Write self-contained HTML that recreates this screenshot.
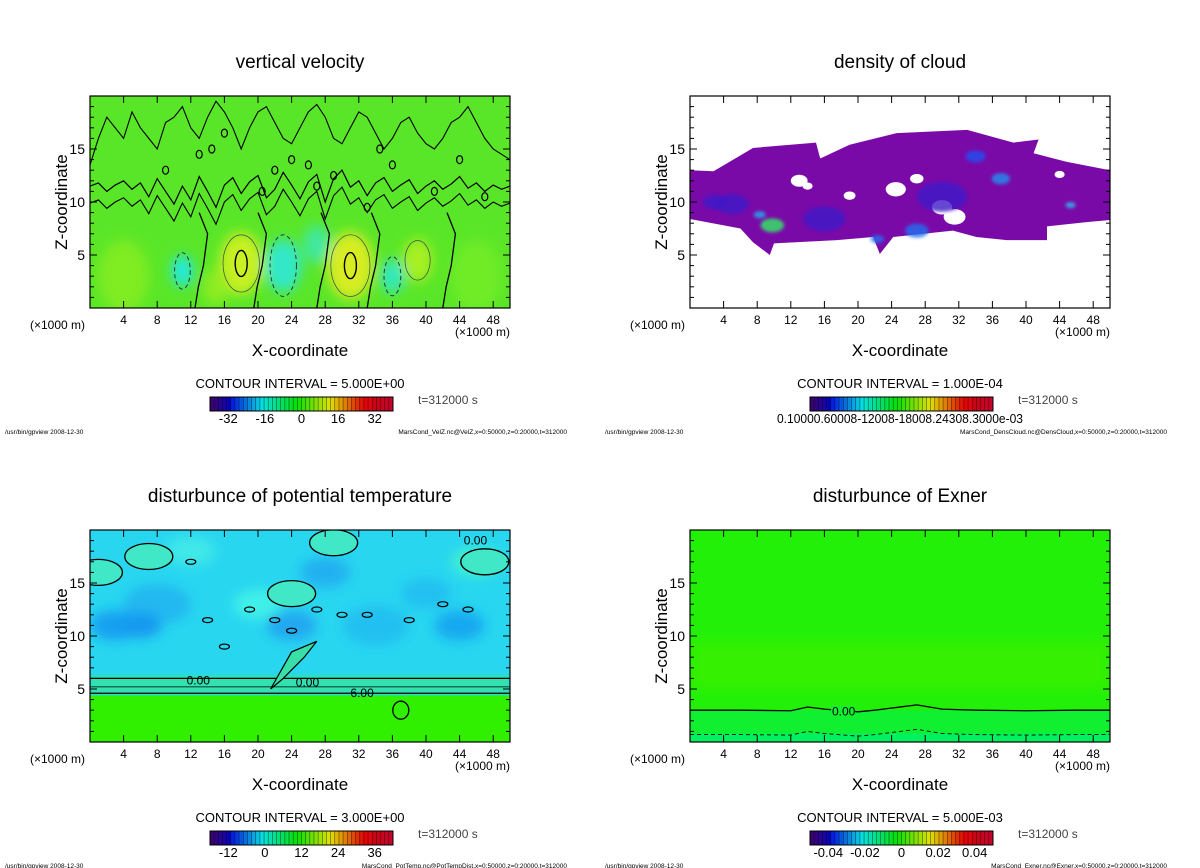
<!DOCTYPE html>
<html><head><meta charset="utf-8"><style>
html,body{margin:0;padding:0;background:#fff;width:1200px;height:868px;overflow:hidden}
svg{display:block;font-family:"Liberation Sans",sans-serif}
</style></head><body>
<svg id="fig" width="1200" height="868" viewBox="0 0 1200 868" xmlns="http://www.w3.org/2000/svg">
<defs>
<filter id="blur6" x="-50%" y="-50%" width="200%" height="200%"><feGaussianBlur stdDeviation="6"/></filter>
<filter id="blur3" x="-50%" y="-50%" width="200%" height="200%"><feGaussianBlur stdDeviation="1.5"/></filter>
</defs>
</svg>
<script>
// ---- data arrays ----
const xTicks=[4,8,12,16,20,24,28,32,36,40,44,48];
const zTicks=[5,10,15];
const titles=["vertical velocity","density of cloud","disturbunce of potential temperature","disturbunce of Exner"];
const intervals=["CONTOUR INTERVAL = 5.000E+00","CONTOUR INTERVAL = 1.000E-04","CONTOUR INTERVAL = 3.000E+00","CONTOUR INTERVAL = 5.000E-03"];
const files=["MarsCond_VelZ.nc@VelZ,x=0:50000,z=0:20000,t=312000","MarsCond_DensCloud.nc@DensCloud,x=0:50000,z=0:20000,t=312000","MarsCond_PotTemp.nc@PotTempDist,x=0:50000,z=0:20000,t=312000","MarsCond_Exner.nc@Exner,x=0:50000,z=0:20000,t=312000"];
const cbLabels=[["-32","-16","0","16","32"],["0.10000.60008-12008-18008.24308.3000e-03"],["-12","0","12","24","36"],["-0.04","-0.02","0","0.02","0.04"]];
const cbValues=[[-32,-16,0,16,32],[0],[-12,0,12,24,36],[-0.04,-0.02,0,0.02,0.04]];
const cbRange=[[-40,40],[-1,1],[-18,42],[-0.05,0.05]];
// vertical velocity blobs
const vzBlobX=[18,31,39,11,23,36,4,46,27,15];
const vzBlobZ=[4.2,4,4.5,3.5,4,3,3,3,6,2];
const vzBlobR=[2.6,2.8,1.8,1.3,2.2,1.4,3,3,1.6,1.5];
const vzBlobC=["#c8f020","#d8ec20","#a8f020","#20e8e0","#30e8c8","#30e8c0","#80ec20","#70ec28","#40e8a0","#90ec20"];
// jagged contours
const vzLineX=[0,1,2,3,4,5,6,7,8,9,10,11,12,13,14,15,16,17,18,19,20,21,22,23,24,25,26,27,28,29,30,31,32,33,34,35,36,37,38,39,40,41,42,43,44,45,46,47,48,49,50];
const vzLineZ=[11.5,11.8,11,11.6,12,11.2,11.8,10.5,12.2,11,9.8,11.5,10.2,12.4,11,9.5,11.6,12.3,10.8,11.9,12.5,10.4,11.2,12.8,11.6,10.3,11.9,12.6,10,12.2,13,11.4,12,10.6,11.8,12.3,11,11.6,12.1,10.8,11.5,12,11.2,11.7,12.4,11.3,11.8,11,11.6,11.2,11.5];
const vzLine2Z=[13.5,16,18,17,16,18.5,17,16,15,17.5,18,19,17,16,18,19.5,18.5,17,15,17,18.5,19,17.5,16,15.5,17,18.5,19.2,18,16,15.5,17,18.5,18,16.5,15,16,17.5,18,16.5,15.5,15,16,17.5,18,19,17.5,16,15,14.5,14];
const vzLoopX=[13,14.5,16,22,24,27,29,33,34.5,36,41,44,47,9,20.5,26];
const vzLoopZ=[14.5,15,16.5,13,14,11.5,12.5,9.5,15,13.5,11,14,10.5,13,11,13.5];
// cloud
const cloudX=[0,2.8,7.5,15,15.5,19,24.6,33,38.5,41.5,40.9,44.8,50,50,47.2,42.5,42.5,37.7,34.1,31.3,24.2,22.6,21.8,17.5,10,9.5,7.5,6,0];
const cloudZ=[13,12.9,15.1,15.6,14.1,15.4,16.5,16.8,15.6,15.9,14.6,13.8,13,8.3,8.1,7.7,6.4,6.4,6.7,7.3,6.7,5.1,6.7,6.4,6.1,5,6.2,7.5,8.4];
const holeX=[13,24.5,31.5,19,44,27,30,14];
const holeZ=[12,11.2,8.6,10.6,12.6,12.2,9.5,11.5];
const holeR=[1.0,1.2,1.3,0.7,0.6,0.8,1.2,0.6];
const cloudBlobX=[9.8,8.3,34,37,45.3,22.3,27,5,16,30,3];
const cloudBlobZ=[7.8,8.8,14.3,12.2,9.7,6.5,7.3,9.8,8.4,10.5,10];
const cloudBlobR=[1.4,0.7,1.2,1.1,0.6,0.8,1.4,2,2.5,3,1.5];
const cloudBlobC=["#30f060","#20b0f0","#2050f0","#2090f0","#30c0f0","#2070f0","#2070f0","#4018c8","#4018c8","#4018c8","#4018c8"];
// pot temp
const ptBlobX=[8,20,28,46,3,34,12,40,24,44,6];
const ptBlobZ=[13,13,16,17,11,11,18,14,11,11,11];
const ptBlobR=[4,3,3,3,3,4,3,3,3,3,2.5];
const ptBlobC=["#20b8f0","#40f0e8","#20b0f0","#40f0d0","#18a0f0","#20c0f0","#40e8e8","#20c0f0","#20a8f0","#18a8f0","#1898f0"];
const ptLoopX=[14,19,22,27,30,33,16,24,38,42,45,12];
const ptLoopZ=[11.5,12.5,11.5,12.5,12,12,9,10.5,11.5,13,12.5,17];
// exner
const exLineX=[0,6,12,14,16,20,22,24,27,30,34,40,46,50];
const exLineZ=[3,3,2.95,3.3,3.1,2.85,3,3.2,3.5,3.1,3,2.95,3,3];

const NS="http://www.w3.org/2000/svg";
const fig=document.getElementById('fig');
function mk(tag,attrs,parent){const e=document.createElementNS(NS,tag);for(const k in attrs)e.setAttribute(k,attrs[k]);(parent||fig).appendChild(e);return e;}
function txt(s,attrs,parent){const e=mk('text',attrs,parent);e.textContent=s;return e;}

const panels=[[0,0],[600,0],[0,434],[600,434]];
panels.forEach((p,i)=>{
 const ox=p[0],oy=p[1];
 const L=90+ox,R=510+ox,T=96+oy,B=308+oy;
 const sx=v=>L+(v/50)*(R-L), sz=v=>B-(v/20)*(B-T);
 const g=mk('g',{});
 
 
 const t=txt(titles[i],{x:300+ox,y:68+oy,'text-anchor':'middle','font-size':19,fill:'#000'},g);
 
 
 const cid='clip'+i;
 const cp=mk('clipPath',{id:cid},g);
 mk('rect',{x:L,y:T,width:R-L,height:B-T},cp);
 const field=mk('g',{'clip-path':'url(#'+cid+')'},g);
 
 
 const pts=(X,Z)=>X.map((x,j)=>sx(x)+','+sz(Z[j])).join(' ');
 if(i===0){
  mk('rect',{x:L,y:T,width:R-L,height:B-T,fill:'#5ae628'},field);
  const bg=mk('g',{filter:'url(#blur6)'},field);
  vzBlobX.forEach((x,j)=>{const e=mk('ellipse',{cx:sx(x),cy:sz(vzBlobZ[j]),rx:vzBlobR[j]*8.4,ry:vzBlobR[j]*12,fill:vzBlobC[j]},bg);
   
   });
  const ln=mk('polyline',{points:pts(vzLineX,vzLineZ),fill:'none',stroke:'#000','stroke-width':1.2},field);
  
  
  const ln2=mk('polyline',{points:pts(vzLineX,vzLineZ.map(z=>z-1.6)),fill:'none',stroke:'#000','stroke-width':1.1},field);
  
  
  const ln3=mk('polyline',{points:pts(vzLineX,vzLine2Z),fill:'none',stroke:'#000','stroke-width':1.1},field);
  
  
  [13.5,20.5,28,34,43].forEach(x=>{const c=mk('polyline',{points:pts([x-1,x-0.6,x,x+0.5,x-0.5],[0,2,4,7,9]),fill:'none',stroke:'#000','stroke-width':1.3},field);
   
   });
  vzLoopX.forEach((x,j)=>{const e=mk('ellipse',{cx:sx(x),cy:sz(vzLoopZ[j]),rx:3,ry:4,fill:'none',stroke:'#000','stroke-width':1.2},field);
   
   });
  vzBlobX.slice(0,3).forEach((x,j)=>{const e=mk('ellipse',{cx:sx(x),cy:sz(vzBlobZ[j]),rx:vzBlobR[j]*7,ry:vzBlobR[j]*11,fill:'none',stroke:'#444','stroke-width':0.7},field);
   
   });
  vzBlobX.slice(0,2).forEach((x,j)=>{const e=mk('ellipse',{cx:sx(x),cy:sz(vzBlobZ[j]),rx:6,ry:13,fill:'none',stroke:'#000','stroke-width':1.4},field);
   
   });
  vzBlobX.slice(3,6).forEach((x,j)=>{const e=mk('ellipse',{cx:sx(x),cy:sz(vzBlobZ[j+3]),rx:vzBlobR[j+3]*6,ry:vzBlobR[j+3]*14,fill:'none',stroke:'#224','stroke-width':0.9,'stroke-dasharray':'4,3'},field);
   
   });
 } else if(i===1){
  mk('rect',{x:L,y:T,width:R-L,height:B-T,fill:'#fff'},field);
  const c=mk('polygon',{points:pts(cloudX,cloudZ),fill:'#7a0aa8'},field);
  
  
  holeX.forEach((x,j)=>{const e=mk('ellipse',{cx:sx(x),cy:sz(holeZ[j]),rx:holeR[j]*8.4,ry:holeR[j]*6,fill:'#fff'},field);
   
   });
  const bg=mk('g',{filter:'url(#blur3)'},field);
  cloudBlobX.forEach((x,j)=>{const e=mk('ellipse',{cx:sx(x),cy:sz(cloudBlobZ[j]),rx:cloudBlobR[j]*8.4,ry:cloudBlobR[j]*5,fill:cloudBlobC[j],opacity:0.8},bg);
   
   });
 } else if(i===2){
  mk('rect',{x:L,y:T,width:R-L,height:B-T,fill:'#28d6f0'},field);
  const bg=mk('g',{filter:'url(#blur6)'},field);
  ptBlobX.forEach((x,j)=>{const e=mk('ellipse',{cx:sx(x),cy:sz(ptBlobZ[j]),rx:ptBlobR[j]*8.4,ry:ptBlobR[j]*5,fill:ptBlobC[j]},bg);
   
   });
  mk('rect',{x:L,y:sz(6.3),width:R-L,height:sz(4.5)-sz(6.3),fill:'#30e0b0',filter:'url(#blur3)'},field);
  mk('rect',{x:L,y:sz(4.4),width:R-L,height:sz(0)-sz(4.4),fill:'#30f000'},field);
  [[6,1.3],[5.2,0.8],[4.6,1.3]].forEach(a=>{const l=mk('line',{x1:L,x2:R,y1:sz(a[0]),y2:sz(a[0]),stroke:'#000','stroke-width':a[1]},field);
   
   });
  [[7,17.5],[29,18.8],[47,17],[1,16],[24,14]].forEach(a=>{const e=mk('ellipse',{cx:sx(a[0]),cy:sz(a[1]),rx:24,ry:13,fill:'#40e8c8',stroke:'#000','stroke-width':1.3},field);
   
   });
  ptLoopX.forEach((x,j)=>{const e=mk('ellipse',{cx:sx(x),cy:sz(ptLoopZ[j]),rx:5,ry:2.5,fill:'none',stroke:'#000','stroke-width':1.2},field);
   
   });
  const tri=mk('polyline',{points:pts([21.5,24,27,25.5,23,21.5],[5,8.5,9.5,8,6,5]),fill:'#38e0a8',stroke:'#000','stroke-width':1.2},field);
  
  
  const e2=mk('ellipse',{cx:sx(37),cy:sz(3),rx:8,ry:9,fill:'none',stroke:'#000','stroke-width':1.3},field);
  
  
  const lb=[["0.00",sx(11.5),sz(5.8)],["0.00",sx(24.5),sz(5.6)],["6.00",sx(31),sz(4.6)],["0.00",sx(44.5),sz(19)]];
  lb.forEach(a=>{const tt=txt(a[0],{x:a[1],y:a[2]+4,'font-size':12,fill:'#000'},field);
   
   });
 } else {
  mk('rect',{x:L,y:T,width:R-L,height:B-T,fill:'#22f008'},field);
  mk('rect',{x:L,y:sz(9.5),width:R-L,height:sz(5)-sz(9.5),fill:'#34f004',filter:'url(#blur6)'},field);
  mk('rect',{x:L,y:sz(3),width:R-L,height:sz(0)-sz(3),fill:'#10f030'},field);
  mk('rect',{x:L,y:sz(0.8),width:R-L,height:sz(0)-sz(0.8),fill:'#00f060'},field);
  const ln=mk('polyline',{points:pts(exLineX,exLineZ),fill:'none',stroke:'#000','stroke-width':1.3},field);
  
  
  const ln2=mk('polyline',{points:pts(exLineX,exLineZ.map(z=>z-2.3)),fill:'none',stroke:'#000','stroke-width':0.9,'stroke-dasharray':'4,3'},field);
  
  
  mk('rect',{x:sx(16.8),y:sz(3.4),width:24,height:10,fill:'#10f030'},field);
  const tt=txt("0.00",{x:sx(16.9),y:sz(2.9)+4,'font-size':12,fill:'#000'},field);
  
  
 }
 const fr=mk('rect',{x:L,y:T,width:R-L,height:B-T,fill:'none',stroke:'#000','stroke-width':1.2},g);
 
 
 xTicks.forEach(v=>{
  mk('line',{x1:sx(v),x2:sx(v),y1:B,y2:B-7,stroke:'#000'},g);
  mk('line',{x1:sx(v),x2:sx(v),y1:T,y2:T+7,stroke:'#000'},g);
  const l=txt(String(v),{x:sx(v),y:B+16,'text-anchor':'middle','font-size':12,fill:'#000'},g);
  
  
 });
 for(let z=1;z<20;z++){const len=z%5===0?7:4;
  mk('line',{x1:L,x2:L+len,y1:sz(z),y2:sz(z),stroke:'#000'},g);
  mk('line',{x1:R,x2:R-len,y1:sz(z),y2:sz(z),stroke:'#000'},g);}
 zTicks.forEach(v=>{const l=txt(String(v),{x:L-5,y:sz(v)+5,'text-anchor':'end','font-size':14,fill:'#000'},g);
  
  });
 const yl=txt("Z-coordinate",{x:0,y:0,transform:`translate(${67+ox},${202+oy}) rotate(-90)`,'text-anchor':'middle','font-size':17,fill:'#000'},g);
 
 
 const u1=txt("(×1000 m)",{x:30+ox,y:329+oy,'font-size':12,fill:'#000'},g);
 
 
 const u2=txt("(×1000 m)",{x:455+ox,y:336+oy,'font-size':12,fill:'#000'},g);
 
 
 const xl=txt("X-coordinate",{x:300+ox,y:356+oy,'text-anchor':'middle','font-size':17,fill:'#000'},g);
 
 
 const ci=txt(intervals[i],{x:300+ox,y:388+oy,'text-anchor':'middle','font-size':13,fill:'#000'},g);
 
 
 const cb=mk('g',{},g);
 
 
 const cx0=210+ox,cx1=393+ox,n=44,w=(cx1-cx0)/n;
 for(let k=0;k<n;k++){const f=k/(n-1);const hue=f<0.85?270-f/0.85*270:360-(f-0.85)/0.15*12;
  const light=f<0.1?22+f*150:(f>0.9?40:45);
  mk('rect',{x:cx0+k*w,y:397+oy,width:w+0.3,height:14,fill:`hsl(${hue},95%,${light}%)`},cb);
  mk('line',{x1:cx0+k*w,x2:cx0+k*w,y1:397+oy,y2:411+oy,stroke:'#000','stroke-width':0.6,opacity:0.6},cb);}
 mk('rect',{x:cx0,y:397+oy,width:cx1-cx0,height:14,fill:'none',stroke:'#000','stroke-width':1},cb);
 const rg=cbRange[i];
 if(i===1){const l=txt(cbLabels[1][0],{x:300+ox,y:423+oy,'text-anchor':'middle','font-size':13,fill:'#000',textLength:246,lengthAdjust:'spacingAndGlyphs'},cb);
  
  }
 else cbValues[i].forEach((v,j)=>{const l=txt(cbLabels[i][j],{x:cx0+(v-rg[0])/(rg[1]-rg[0])*(cx1-cx0),y:423+oy,'text-anchor':'middle','font-size':13,fill:'#000'},cb);
  
  });
 const tl=txt("t=312000 s",{x:418+ox,y:404+oy,'font-size':12,fill:'#444'},g);
 
 
 const f1=txt("/usr/bin/gpview   2008-12-30",{x:5+ox,y:434+oy,'font-size':6.5,fill:'#000'},g);
 
 
 const f2=txt(files[i],{x:567+ox,y:434+oy,'text-anchor':'end','font-size':6.5,fill:'#000'},g);
 
 
});
</script>
</body></html>
